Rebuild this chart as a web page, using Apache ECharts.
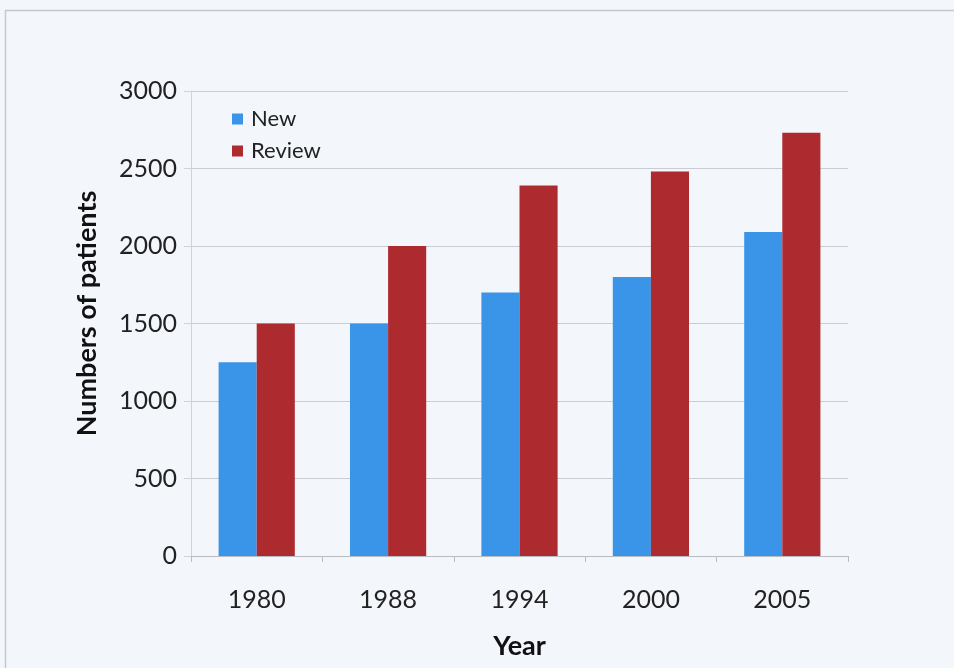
<!DOCTYPE html>
<html><head><meta charset="utf-8">
<script src="https://cdn.jsdelivr.net/npm/echarts@6/dist/echarts.min.js"></script>
<style>html,body{margin:0;padding:0;background:#f3f6fb;}#c{width:954px;height:668px;}</style>
</head><body><div id="c"></div>
<script>
const years = ['1980', '1988', '1994', '2000', '2005'];
const newPatients = [1250, 1500, 1700, 1800, 2090];
const reviewPatients = [1500, 2000, 2390, 2480, 2730];
const yTicks = [0, 500, 1000, 1500, 2000, 2500, 3000];

const chart = echarts.init(document.getElementById('c'));
const font = 'Lato, "Open Sans", sans-serif';
chart.setOption({
  backgroundColor: '#f3f6fb',
  animation: false,
  graphic: [{
    type: 'rect', shape: {x: 5.5, y: 10.5, width: 960, height: 700},
    style: {fill: 'none', stroke: '#c4c8cf', lineWidth: 1.5}
  }],
  grid: {left: 191, right: 106, top: 91, bottom: 112},
  legend: {
    orient: 'vertical', left: 227, top: 103, itemWidth: 11, itemHeight: 11, itemGap: 10,
    icon: 'rect',
    textStyle: {fontFamily: font, fontSize: 22, color: '#222', padding: [0, 0, 0, 3]},
    data: ['New', 'Review']
  },
  xAxis: {
    type: 'category', data: years,
    name: 'Year', nameLocation: 'middle', nameGap: 77,
    nameTextStyle: {fontFamily: font, fontSize: 27, fontWeight: 'bold', color: '#111'},
    axisLine: {lineStyle: {color: '#b8bcc2'}},
    axisTick: {show: true, length: 6, lineStyle: {color: '#b8bcc2'}},
    axisLabel: {fontFamily: font, fontSize: 25, color: '#222', margin: 31}
  },
  yAxis: {
    type: 'value', min: 0, max: 3000, interval: 500,
    name: 'Numbers of patients', nameLocation: 'middle', nameGap: 90, nameRotate: 90,
    nameTextStyle: {fontFamily: font, fontSize: 27, fontWeight: 'bold', color: '#111',
      padding: [0, 0, 0, 20]},
    axisLine: {show: true, lineStyle: {color: '#d0d4da'}},
    axisTick: {show: true, length: 7, lineStyle: {color: '#d0d4da'}},
    axisLabel: {fontFamily: font, fontSize: 25, color: '#222', margin: 14,
      formatter: v => yTicks.includes(v) ? String(v) : ''},
    splitLine: {lineStyle: {color: '#c9cdd3'}}
  },
  series: [
    {name: 'New', type: 'bar', data: newPatients, itemStyle: {color: '#3a95e8'},
     barGap: '0%', barCategoryGap: '42%'},
    {name: 'Review', type: 'bar', data: reviewPatients, itemStyle: {color: '#ad2a2f'},
     barGap: '0%', barCategoryGap: '42%'}
  ]
});
</script></body></html>
